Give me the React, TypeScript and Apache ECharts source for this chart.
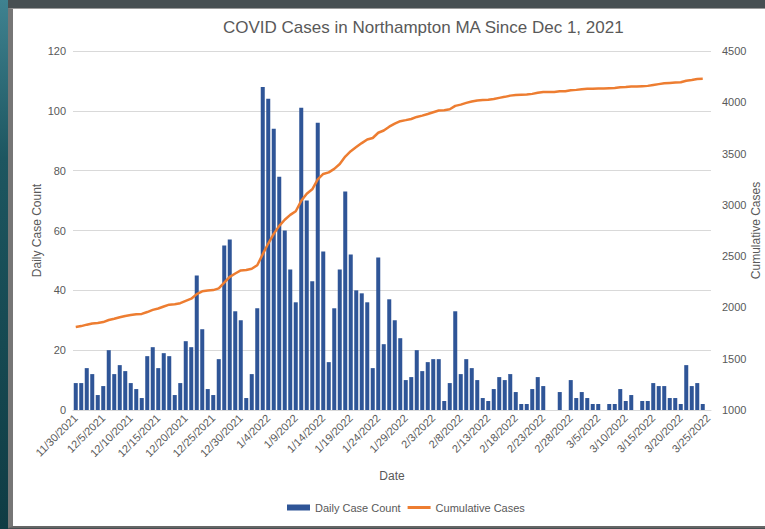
import React, { useEffect, useRef } from "react";
import * as echarts from "echarts";

const TITLE = "COVID Cases in Northampton MA Since Dec 1, 2021";

const dates: string[] = [
  "11/30/2021",
  "12/1/2021", "12/2/2021", "12/3/2021", "12/4/2021", "12/5/2021", "12/6/2021", "12/7/2021", "12/8/2021", "12/9/2021", "12/10/2021",
  "12/11/2021", "12/12/2021", "12/13/2021", "12/14/2021", "12/15/2021", "12/16/2021", "12/17/2021", "12/18/2021", "12/19/2021", "12/20/2021",
  "12/21/2021", "12/22/2021", "12/23/2021", "12/24/2021", "12/25/2021", "12/26/2021", "12/27/2021", "12/28/2021", "12/29/2021", "12/30/2021", "12/31/2021",
  "1/1/2022", "1/2/2022", "1/3/2022", "1/4/2022", "1/5/2022", "1/6/2022", "1/7/2022", "1/8/2022", "1/9/2022", "1/10/2022",
  "1/11/2022", "1/12/2022", "1/13/2022", "1/14/2022", "1/15/2022", "1/16/2022", "1/17/2022", "1/18/2022", "1/19/2022", "1/20/2022",
  "1/21/2022", "1/22/2022", "1/23/2022", "1/24/2022", "1/25/2022", "1/26/2022", "1/27/2022", "1/28/2022", "1/29/2022", "1/30/2022", "1/31/2022",
  "2/1/2022", "2/2/2022", "2/3/2022", "2/4/2022", "2/5/2022", "2/6/2022", "2/7/2022", "2/8/2022", "2/9/2022", "2/10/2022",
  "2/11/2022", "2/12/2022", "2/13/2022", "2/14/2022", "2/15/2022", "2/16/2022", "2/17/2022", "2/18/2022", "2/19/2022", "2/20/2022",
  "2/21/2022", "2/22/2022", "2/23/2022", "2/24/2022", "2/25/2022", "2/26/2022", "2/27/2022", "2/28/2022",
  "3/1/2022", "3/2/2022", "3/3/2022", "3/4/2022", "3/5/2022", "3/6/2022", "3/7/2022", "3/8/2022", "3/9/2022", "3/10/2022",
  "3/11/2022", "3/12/2022", "3/13/2022", "3/14/2022", "3/15/2022", "3/16/2022", "3/17/2022", "3/18/2022", "3/19/2022", "3/20/2022",
  "3/21/2022", "3/22/2022", "3/23/2022", "3/24/2022", "3/25/2022",
];

const dailyCases: (number | null)[] = [
  9, 9, 14, 12, 5, 8, 20, 12, 15, 13,
  9, 7, 4, 18, 21, 14, 19, 18, 5, 9,
  23, 21, 45, 27, 7, 5, 17, 55, 57, 33,
  30, 4, 12, 34, 108, 104, 94, 78, 60, 47,
  36, 101, 70, 43, 96, 53, 16, 34, 47, 73,
  52, 40, 39, 36, 14, 51, 22, 37, 30, 24,
  10, 11, 20, 13, 16, 17, 17, 3, 9, 33,
  12, 17, 14, 10, 4, 3, 7, 11, 10, 12,
  6, 2, 2, 7, 11, 8, 0, 0, 6, 0,
  10, 4, 6, 4, 2, 2, 0, 2, 2, 7,
  3, 5, 0, 3, 3, 9, 8, 8, 4, 4,
  2, 15, 8, 9, 2, null,
];

const cumulativeCases: (number | null)[] = [
  1809, 1818, 1832, 1844, 1849, 1857, 1877, 1889, 1904, 1917,
  1926, 1933, 1937, 1955, 1976, 1990, 2009, 2027, 2032, 2041,
  2064, 2085, 2130, 2157, 2164, 2169, 2186, 2241, 2298, 2331,
  2361, 2365, 2377, 2411, 2519, 2623, 2717, 2795, 2855, 2902,
  2938, 3039, 3109, 3152, 3248, 3301, 3317, 3351, 3398, 3471,
  3523, 3563, 3602, 3638, 3652, 3703, 3725, 3762, 3792, 3816,
  3826, 3837, 3857, 3870, 3886, 3903, 3920, 3923, 3932, 3965,
  3977, 3994, 4008, 4018, 4022, 4025, 4032, 4043, 4053, 4065,
  4071, 4073, 4075, 4082, 4093, 4101, 4101, 4101, 4107, 4107,
  4117, 4121, 4127, 4131, 4133, 4135, 4135, 4137, 4139, 4146,
  4149, 4154, 4154, 4157, 4160, 4169, 4177, 4185, 4189, 4193,
  4195, 4210, 4218, 4227, 4229, null,
];

const FONT = "'Liberation Sans', Arial, Helvetica, sans-serif";
const TEXT = "#595959";

export default function App() {
  const ref = useRef<HTMLDivElement>(null);

  useEffect(() => {
    if (!ref.current) return;
    const chart = echarts.init(ref.current, undefined, { renderer: "svg" });
    chart.setOption({
      animation: false,
      backgroundColor: "transparent",
      textStyle: { fontFamily: FONT },
      title: {
        text: TITLE,
        left: 218,
        top: 14,
        textStyle: { fontSize: 17, fontWeight: "normal", color: TEXT, fontFamily: FONT },
      },
      grid: { left: 73, right: 54, top: 51, bottom: 119, containLabel: false, outerBoundsMode: "none" },
      legend: {
        left: 287,
        top: 502,
        padding: 0,
        itemWidth: 23,
        itemHeight: 6,
        itemGap: 7,
        symbolKeepAspect: true,
        textStyle: { fontSize: 11, color: TEXT, fontFamily: FONT },
        data: [
          { name: "Daily Case Count", icon: "rect" },
          { name: "Cumulative Cases", icon: "path://M0,0H23V3H0Z" },
        ],
      },
      xAxis: {
        type: "category",
        data: dates,
        name: "Date",
        nameLocation: "middle",
        nameGap: 60,
        nameMoveOverlap: false,
        nameTextStyle: { fontSize: 12, color: TEXT, fontFamily: FONT },
        axisLine: { lineStyle: { color: "#d9d9d9" } },
        axisTick: { show: false },
        axisLabel: { interval: 4, rotate: 45, fontSize: 11, color: TEXT, margin: 6, fontFamily: FONT },
      },
      yAxis: [
        {
          type: "value",
          min: 0,
          max: 120,
          interval: 20,
          name: "Daily Case Count",
          nameLocation: "middle",
          nameRotate: 90,
          nameGap: 30,
          nameMoveOverlap: false,
          nameTextStyle: { fontSize: 12, color: TEXT, fontFamily: FONT },
          axisLine: { show: false },
          axisTick: { show: false },
          axisLabel: { fontSize: 11, color: TEXT, margin: 7, fontFamily: FONT },
          splitLine: { lineStyle: { color: "#d9d9d9", width: 1 } },
        },
        {
          type: "value",
          position: "right",
          min: 1000,
          max: 4500,
          interval: 500,
          name: "Cumulative Cases",
          nameLocation: "middle",
          nameRotate: 90,
          nameGap: 39,
          nameMoveOverlap: false,
          nameTextStyle: { fontSize: 12, color: TEXT, fontFamily: FONT },
          axisLine: { show: false },
          axisTick: { show: false },
          axisLabel: { fontSize: 11, color: TEXT, margin: 11, fontFamily: FONT, formatter: (v: number) => String(v) },
          splitLine: { show: false },
        },
      ],
      series: [
        {
          name: "Daily Case Count",
          type: "bar",
          data: dailyCases,
          barCategoryGap: "27%",
          itemStyle: { color: "#2F5597" },
        },
        {
          name: "Cumulative Cases",
          type: "line",
          yAxisIndex: 1,
          data: cumulativeCases,
          symbol: "none",
          showSymbol: false,
          z: 5,
          lineStyle: { color: "#ED7D31", width: 2.5 },
          itemStyle: { color: "#ED7D31" },
        },
      ],
    });
    return () => chart.dispose();
  }, []);

  return (
    <div style={{ position: "fixed", left: 0, top: 0, width: 765, height: 529, background: "#474f52", overflow: "hidden" }}>
      <div
        style={{
          position: "absolute",
          left: 0,
          top: 0,
          width: 8,
          height: 529,
          background: "linear-gradient(#3f8290, #1d5660 30%, #0f3c44)",
        }}
      />
      <div
        style={{
          position: "absolute",
          left: 8,
          top: 8,
          width: 757,
          height: 520,
          boxSizing: "border-box",
          background: "#ffffff",
          borderLeft: "5px solid #767676",
          borderTop: "1px solid #9a9a9a",
          borderBottom: "2px solid #666666",
        }}
      />
      <div ref={ref} style={{ position: "absolute", left: 0, top: 0, width: 765, height: 529 }} />
    </div>
  );
}
